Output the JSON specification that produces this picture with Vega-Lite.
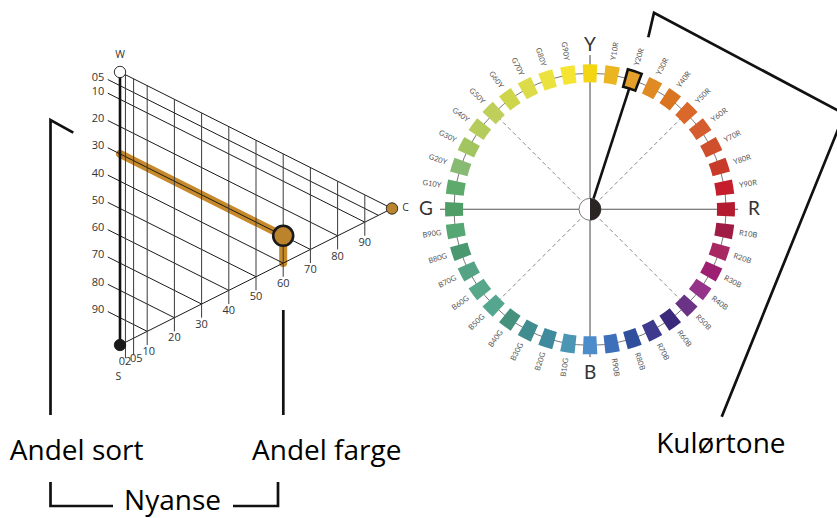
{
  "$schema": "https://vega.github.io/schema/vega-lite/v6.json",
  "width": 837,
  "height": 518,
  "autosize": {"type": "none"},
  "padding": 0,
  "background": "white",
  "config": {"view": {"stroke": null}},
  "datasets": {
    "segments": [
      {"group": "edge", "x": 0, "y": 0, "x2": 100, "y2": 50},
      {"group": "edge", "x": 0, "y": 100, "x2": 100, "y2": 50},
      {"group": "ws", "x": 0, "y": 0, "x2": 0, "y2": 100},
      {"group": "black", "x": -4.5, "y": 2.75, "x2": 95, "y2": 52.5},
      {"group": "black", "x": -4.5, "y": 7.75, "x2": 90, "y2": 55},
      {"group": "black", "x": -4.5, "y": 17.75, "x2": 80, "y2": 60},
      {"group": "black", "x": -4.5, "y": 27.75, "x2": 70, "y2": 65},
      {"group": "black", "x": -4.5, "y": 37.75, "x2": 60, "y2": 70},
      {"group": "black", "x": -4.5, "y": 47.75, "x2": 50, "y2": 75},
      {"group": "black", "x": -4.5, "y": 57.75, "x2": 40, "y2": 80},
      {"group": "black", "x": -4.5, "y": 67.75, "x2": 30, "y2": 85},
      {"group": "black", "x": -4.5, "y": 77.75, "x2": 20, "y2": 90},
      {"group": "black", "x": -4.5, "y": 87.75, "x2": 10, "y2": 95},
      {"group": "chroma", "x": 2, "y": 1, "x2": 2, "y2": 104.8},
      {"group": "chroma", "x": 5, "y": 2.5, "x2": 5, "y2": 103.7},
      {"group": "chroma", "x": 10, "y": 5, "x2": 10, "y2": 100},
      {"group": "chroma", "x": 20, "y": 10, "x2": 20, "y2": 95},
      {"group": "chroma", "x": 30, "y": 15, "x2": 30, "y2": 90},
      {"group": "chroma", "x": 40, "y": 20, "x2": 40, "y2": 85},
      {"group": "chroma", "x": 50, "y": 25, "x2": 50, "y2": 80},
      {"group": "chroma", "x": 60, "y": 30, "x2": 60, "y2": 75},
      {"group": "chroma", "x": 70, "y": 35, "x2": 70, "y2": 70},
      {"group": "chroma", "x": 80, "y": 40, "x2": 80, "y2": 65},
      {"group": "chroma", "x": 90, "y": 45, "x2": 90, "y2": 60},
      {"group": "axis", "x": 117.65, "y": 50.3, "x2": 227.2, "y2": 50.3},
      {"group": "axis", "x": 172.8, "y": -6.23, "x2": 172.8, "y2": 104.4},
      {"group": "dash", "x": 176.44, "y": 46.67, "x2": 206.33, "y2": 16.89},
      {"group": "dash", "x": 169.16, "y": 46.67, "x2": 139.27, "y2": 16.89},
      {"group": "dash", "x": 176.44, "y": 53.93, "x2": 206.33, "y2": 83.71},
      {"group": "dash", "x": 169.16, "y": 53.93, "x2": 139.27, "y2": 83.71},
      {"group": "pointer", "x": 172.8, "y": 50.3, "x2": 187.2, "y2": 6.06}
    ],
    "paths": [
      {"id": "ncs", "o": 1, "x": 0, "y": 30},
      {"id": "ncs", "o": 2, "x": 60, "y": 60},
      {"id": "ncs", "o": 3, "x": 60, "y": 70},
      {"id": "sort", "o": 1, "x": -17.17, "y": 22.23},
      {"id": "sort", "o": 2, "x": -25.55, "y": 17.58},
      {"id": "sort", "o": 3, "x": -25.55, "y": 125.64},
      {"id": "farge", "o": 1, "x": 60.04, "y": 87.18},
      {"id": "farge", "o": 2, "x": 60.04, "y": 125.64},
      {"id": "nyanse_l", "o": 1, "x": -25.55, "y": 150.18},
      {"id": "nyanse_l", "o": 2, "x": -25.55, "y": 158.97},
      {"id": "nyanse_l", "o": 3, "x": -2.57, "y": 158.97},
      {"id": "nyanse_r", "o": 1, "x": 41.54, "y": 158.97},
      {"id": "nyanse_r", "o": 2, "x": 58.09, "y": 158.97},
      {"id": "nyanse_r", "o": 3, "x": 58.09, "y": 150.18},
      {"id": "kulor", "o": 1, "x": 194.23, "y": -12.71},
      {"id": "kulor", "o": 2, "x": 196.32, "y": -21.72},
      {"id": "kulor", "o": 3, "x": 266.3, "y": 15.35},
      {"id": "kulor", "o": 4, "x": 221.22, "y": 126.26}
    ],
    "labels": [
      {"kind": "s", "text": "05", "x": -5.8, "y": 2.2},
      {"kind": "s", "text": "10", "x": -5.8, "y": 7.2},
      {"kind": "s", "text": "20", "x": -5.8, "y": 17.2},
      {"kind": "s", "text": "30", "x": -5.8, "y": 27.2},
      {"kind": "s", "text": "40", "x": -5.8, "y": 37.2},
      {"kind": "s", "text": "50", "x": -5.8, "y": 47.2},
      {"kind": "s", "text": "60", "x": -5.8, "y": 57.2},
      {"kind": "s", "text": "70", "x": -5.8, "y": 67.2},
      {"kind": "s", "text": "80", "x": -5.8, "y": 77.2},
      {"kind": "s", "text": "90", "x": -5.8, "y": 87.2},
      {"kind": "c", "text": "02", "x": 1.84, "y": 106.4},
      {"kind": "c", "text": "05", "x": 6.0, "y": 105.0},
      {"kind": "c", "text": "10", "x": 10.6, "y": 102.4},
      {"kind": "c", "text": "20", "x": 20, "y": 97.6},
      {"kind": "c", "text": "30", "x": 30, "y": 92.6},
      {"kind": "c", "text": "40", "x": 40, "y": 87.6},
      {"kind": "c", "text": "50", "x": 50, "y": 82.6},
      {"kind": "c", "text": "60", "x": 60, "y": 77.6},
      {"kind": "c", "text": "70", "x": 70, "y": 72.6},
      {"kind": "c", "text": "80", "x": 80, "y": 67.6},
      {"kind": "c", "text": "90", "x": 90, "y": 62.6},
      {"kind": "corner", "text": "W", "x": 0, "y": -6.23},
      {"kind": "corner", "text": "S", "x": -0.6, "y": 111.8},
      {"kind": "corner", "text": "C", "x": 105.0, "y": 49.93},
      {"kind": "caption", "text": "Andel sort", "x": -15.92, "y": 142.13},
      {"kind": "caption", "text": "Andel farge", "x": 76.0, "y": 142.13},
      {"kind": "caption", "text": "Nyanse", "x": 19.3, "y": 160.3},
      {"kind": "caption", "text": "Kulørtone", "x": 220.9, "y": 139.67}
    ],
    "vertices": [
      {"name": "W", "x": 0, "y": 0},
      {"name": "S", "x": 0, "y": 100},
      {"name": "C", "x": 100, "y": 50}
    ],
    "hues": [
      {"hue": "Y", "step": 0}, {"hue": "Y10R", "step": 1}, {"hue": "Y20R", "step": 2}, {"hue": "Y30R", "step": 3},
      {"hue": "Y40R", "step": 4}, {"hue": "Y50R", "step": 5}, {"hue": "Y60R", "step": 6}, {"hue": "Y70R", "step": 7},
      {"hue": "Y80R", "step": 8}, {"hue": "Y90R", "step": 9}, {"hue": "R", "step": 10}, {"hue": "R10B", "step": 11},
      {"hue": "R20B", "step": 12}, {"hue": "R30B", "step": 13}, {"hue": "R40B", "step": 14}, {"hue": "R50B", "step": 15},
      {"hue": "R60B", "step": 16}, {"hue": "R70B", "step": 17}, {"hue": "R80B", "step": 18}, {"hue": "R90B", "step": 19},
      {"hue": "B", "step": 20}, {"hue": "B10G", "step": 21}, {"hue": "B20G", "step": 22}, {"hue": "B30G", "step": 23},
      {"hue": "B40G", "step": 24}, {"hue": "B50G", "step": 25}, {"hue": "B60G", "step": 26}, {"hue": "B70G", "step": 27},
      {"hue": "B80G", "step": 28}, {"hue": "B90G", "step": 29}, {"hue": "G", "step": 30}, {"hue": "G10Y", "step": 31},
      {"hue": "G20Y", "step": 32}, {"hue": "G30Y", "step": 33}, {"hue": "G40Y", "step": 34}, {"hue": "G50Y", "step": 35},
      {"hue": "G60Y", "step": 36}, {"hue": "G70Y", "step": 37}, {"hue": "G80Y", "step": 38}, {"hue": "G90Y", "step": 39}
    ]
  },
  "layer": [
    {
      "encoding": {
        "x": {"field": "x", "type": "quantitative", "scale": {"domain": [-44.118, 263.603], "nice": false, "zero": false}, "axis": null},
        "y": {"field": "y", "type": "quantitative", "scale": {"domain": [-26.374, 163.37], "nice": false, "zero": false, "reverse": true}, "axis": null}
      },
      "layer": [
        {
          "data": {"name": "paths"},
          "transform": [{"filter": "datum.id === 'ncs'"}],
          "mark": {"type": "line", "color": "#c68a2c", "strokeWidth": 8, "strokeCap": "round", "strokeJoin": "round"},
          "encoding": {"order": {"field": "o"}}
        },
        {
          "data": {"name": "segments"},
          "transform": [{"filter": "datum.group === 'edge' || datum.group === 'black'"}],
          "mark": {"type": "rule", "color": "#1a1a1a", "strokeWidth": 1},
          "encoding": {"x2": {"field": "x2"}, "y2": {"field": "y2"}}
        },
        {
          "data": {"name": "segments"},
          "transform": [{"filter": "datum.group === 'chroma'"}],
          "mark": {"type": "rule", "color": "#3a3a3a", "strokeWidth": 1},
          "encoding": {"x2": {"field": "x2"}, "y2": {"field": "y2"}}
        },
        {
          "data": {"name": "segments"},
          "transform": [{"filter": "datum.group === 'ws'"}],
          "mark": {"type": "rule", "color": "#111111", "strokeWidth": 2.6},
          "encoding": {"x2": {"field": "x2"}, "y2": {"field": "y2"}}
        },
        {
          "data": {"name": "segments"},
          "transform": [{"filter": "datum.group === 'axis'"}],
          "mark": {"type": "rule", "color": "#555555", "strokeWidth": 1.1},
          "encoding": {"x2": {"field": "x2"}, "y2": {"field": "y2"}}
        },
        {
          "data": {"name": "segments"},
          "transform": [{"filter": "datum.group === 'dash'"}],
          "mark": {"type": "rule", "color": "#8a8a8a", "strokeWidth": 1, "strokeDash": [4, 3]},
          "encoding": {"x2": {"field": "x2"}, "y2": {"field": "y2"}}
        },
        {
          "data": {"name": "segments"},
          "transform": [{"filter": "datum.group === 'pointer'"}],
          "mark": {"type": "rule", "color": "#111111", "strokeWidth": 2.6},
          "encoding": {"x2": {"field": "x2"}, "y2": {"field": "y2"}}
        },
        {
          "data": {"name": "vertices"},
          "mark": {"type": "point", "shape": "circle", "filled": true, "size": 130, "stroke": "#1a1a1a", "strokeWidth": 0.9, "opacity": 1},
          "encoding": {
            "fill": {"field": "name", "type": "nominal", "scale": {"domain": ["W", "S", "C"], "range": ["#ffffff", "#1a1a1a", "#b9862f"]}, "legend": null}
          }
        },
        {
          "data": {"values": [{"ncs": "S 3060-Y20R", "x": 60, "y": 60}]},
          "mark": {"type": "point", "shape": "circle", "filled": true, "fill": "#bb832c", "stroke": "#1a1a1a", "strokeWidth": 2.6, "size": 400, "opacity": 1}
        },
        {
          "data": {"name": "labels"},
          "transform": [{"filter": "datum.kind === 's'"}],
          "mark": {"type": "text", "align": "right", "baseline": "middle", "font": "Open Sans", "fontSize": 11, "color": "#333333"},
          "encoding": {"text": {"field": "text"}}
        },
        {
          "data": {"name": "labels"},
          "transform": [{"filter": "datum.kind === 'c'"}],
          "mark": {"type": "text", "align": "center", "baseline": "middle", "font": "Open Sans", "fontSize": 11, "color": "#333333"},
          "encoding": {"text": {"field": "text"}}
        },
        {
          "data": {"name": "labels"},
          "transform": [{"filter": "datum.kind === 'corner'"}],
          "mark": {"type": "text", "align": "center", "baseline": "middle", "font": "Open Sans", "fontSize": 10.5, "color": "#333333"},
          "encoding": {"text": {"field": "text"}}
        },
        {
          "data": {"name": "paths"},
          "transform": [{"filter": "datum.id !== 'ncs'"}],
          "mark": {"type": "line", "color": "#111111", "strokeWidth": 2.7, "strokeJoin": "miter"},
          "encoding": {"detail": {"field": "id"}, "order": {"field": "o"}}
        },
        {
          "data": {"name": "labels"},
          "transform": [{"filter": "datum.kind === 'caption'"}],
          "mark": {"type": "text", "align": "center", "baseline": "alphabetic", "font": "Open Sans", "fontSize": 28, "color": "#000000"},
          "encoding": {"text": {"field": "text"}}
        }
      ]
    },
    {
      "data": {"values": [{"part": "hue circle"}]},
      "encoding": {
        "x": {"datum": 172.8, "type": "quantitative", "scale": {"domain": [-44.118, 263.603], "nice": false, "zero": false}, "axis": null},
        "y": {"datum": 50.3, "type": "quantitative", "scale": {"domain": [-26.374, 163.37], "nice": false, "zero": false, "reverse": true}, "axis": null}
      },
      "layer": [
        {"mark": {"type": "arc", "radius": 136, "theta": 0, "theta2": 6.2832, "filled": false, "stroke": "#777777", "strokeWidth": 1}},
        {"mark": {"type": "arc", "radius": 11, "theta": 0, "theta2": 6.2832, "fill": "#ffffff", "stroke": "#777777", "strokeWidth": 1}},
        {"mark": {"type": "arc", "radius": 11, "theta": 0, "theta2": 3.1416, "fill": "#2b2623"}}
      ]
    },
    {
      "data": {"name": "hues"},
      "encoding": {
        "x": {"datum": 172.8, "type": "quantitative", "scale": {"domain": [-44.118, 263.603], "nice": false, "zero": false}, "axis": null},
        "y": {"datum": 50.3, "type": "quantitative", "scale": {"domain": [-26.374, 163.37], "nice": false, "zero": false, "reverse": true}, "axis": null},
        "theta": {
          "field": "hue", "type": "ordinal",
          "scale": {
            "type": "band", "range": [-0.07854, 6.20465], "paddingInner": 0.36, "paddingOuter": 0.18,
            "domain": ["Y", "Y10R", "Y20R", "Y30R", "Y40R", "Y50R", "Y60R", "Y70R", "Y80R", "Y90R",
                       "R", "R10B", "R20B", "R30B", "R40B", "R50B", "R60B", "R70B", "R80B", "R90B",
                       "B", "B10G", "B20G", "B30G", "B40G", "B50G", "B60G", "B70G", "B80G", "B90G",
                       "G", "G10Y", "G20Y", "G30Y", "G40Y", "G50Y", "G60Y", "G70Y", "G80Y", "G90Y"]
          }
        }
      },
      "layer": [
        {
          "mark": {"type": "arc", "radius": 145, "radius2": 127},
          "encoding": {
            "color": {
              "field": "hue", "type": "nominal", "legend": null,
              "scale": {
                "domain": ["Y", "Y10R", "Y20R", "Y30R", "Y40R", "Y50R", "Y60R", "Y70R", "Y80R", "Y90R",
                           "R", "R10B", "R20B", "R30B", "R40B", "R50B", "R60B", "R70B", "R80B", "R90B",
                           "B", "B10G", "B20G", "B30G", "B40G", "B50G", "B60G", "B70G", "B80G", "B90G",
                           "G", "G10Y", "G20Y", "G30Y", "G40Y", "G50Y", "G60Y", "G70Y", "G80Y", "G90Y"],
                "range": ["#f3d512", "#ebb522", "#e3a02a", "#e08a23", "#d97420", "#d9682a", "#d55c2e", "#cf4e2c", "#c83b2a", "#c51d2b",
                          "#b21b30", "#a01c45", "#a82862", "#9c1f71", "#943389", "#6b3385", "#3b2a7c", "#3e3b8f", "#2f4e9c", "#3d6fba",
                          "#4c8ccb", "#4a96b4", "#3f8a9c", "#418c8e", "#45917e", "#55a68f", "#57a78b", "#55a385", "#4a9870", "#57a775",
                          "#4f9e67", "#5ea96c", "#87bb74", "#a3c560", "#b5cc5c", "#bfcf5a", "#cdd54a", "#dcdb48", "#ece23f", "#f5e532"]
              }
            }
          }
        },
        {
          "transform": [{"filter": "datum.hue === 'Y20R'"}],
          "mark": {"type": "arc", "radius": 145, "radius2": 127, "filled": false, "stroke": "#111111", "strokeWidth": 2.6}
        },
        {
          "transform": [{"filter": "datum.step % 10 !== 0"}],
          "mark": {"type": "text", "radius": 160, "font": "Lato", "fontSize": 7.5, "color": "#555555", "align": "center", "baseline": "middle"},
          "encoding": {
            "text": {"field": "hue"},
            "angle": {"field": "step", "type": "quantitative", "scale": {"domain": [1, 19, 21, 39], "range": [-81, 81, -81, 81]}}
          }
        },
        {
          "transform": [{"filter": "datum.step % 10 === 0"}],
          "mark": {"type": "text", "radius": 164, "font": "Lato", "fontSize": 19, "color": "#333333", "align": "center", "baseline": "middle"},
          "encoding": {"text": {"field": "hue"}}
        }
      ]
    }
  ]
}
